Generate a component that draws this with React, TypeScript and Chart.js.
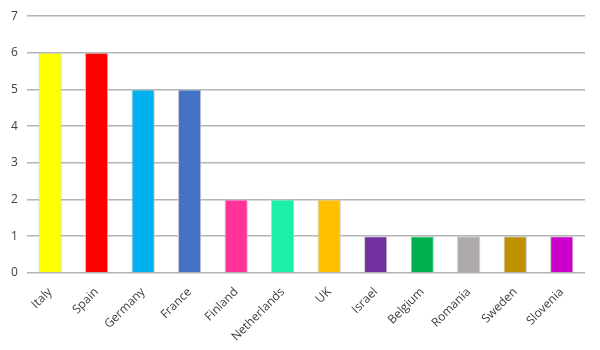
import React, { useEffect, useRef } from "react";
import { Chart, registerables } from "chart.js";

Chart.register(...registerables);

const categories = ["Italy", "Spain", "Germany", "France", "Finland", "Netherlands", "UK", "Israel", "Belgium", "Romania", "Sweden", "Slovenia"];
const values = [6, 6, 5, 5, 2, 2, 2, 1, 1, 1, 1, 1];
const barColors = ["#FFFF00", "#FF0000", "#00B0F0", "#4472C4", "#FF3399", "#1AF0A8", "#FFC000", "#7030A0", "#00B050", "#AEAAAA", "#BF9000", "#CC00CC"];

export default function App() {
  const ref = useRef<HTMLCanvasElement>(null);
  useEffect(() => {
    if (!ref.current) return;
    const chart = new Chart(ref.current, {
      type: "bar",
      data: {
        labels: categories,
        datasets: [
          {
            data: values,
            backgroundColor: barColors,
            borderColor: "#C8C8C8",
            borderWidth: 1,
            categoryPercentage: 1,
            barPercentage: 0.5,
          },
        ],
      },
      options: {
        animation: false,
        responsive: false,
        maintainAspectRatio: false,
        layout: { padding: { left: 2, right: 15, top: 6, bottom: 2 } },
        plugins: { legend: { display: false }, tooltip: { enabled: false } },
        scales: {
          x: {
            grid: { display: false },
            border: { display: false },
            ticks: {
              maxRotation: 45,
              minRotation: 45,
              color: "#404040",
              font: { family: "Open Sans", size: 12 },
              padding: 4,
            },
          },
          y: {
            min: 0,
            max: 7,
            grid: { color: "#B4B4B4", lineWidth: 1.5, drawTicks: false },
            border: { display: false },
            ticks: {
              stepSize: 1,
              color: "#404040",
              font: { family: "Open Sans", size: 12 },
              padding: 9,
            },
          },
        },
      },
    });
    return () => chart.destroy();
  }, []);
  return (
    <div style={{ position: "absolute", left: 0, top: 0, width: 600, height: 350, background: "#fff" }}>
      <canvas ref={ref} width={600} height={350} />
    </div>
  );
}
